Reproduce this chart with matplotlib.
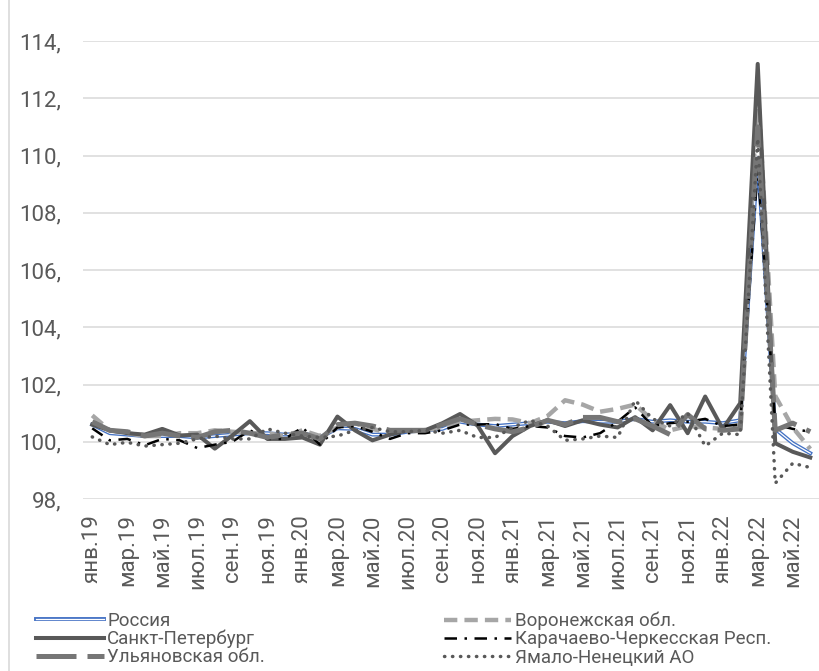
import matplotlib
matplotlib.use('Agg')
import matplotlib.pyplot as plt
import matplotlib.patheffects as pe
from matplotlib.lines import Line2D

plt.rcParams['font.family'] = ['Roboto', 'DejaVu Sans']

# периоды (янв.19 - июн.22)
periods = ['янв.19', 'фев.19', 'мар.19', 'апр.19', 'май.19', 'июн.19', 'июл.19', 'авг.19',
           'сен.19', 'окт.19', 'ноя.19', 'дек.19', 'янв.20', 'фев.20', 'мар.20', 'апр.20',
           'май.20', 'июн.20', 'июл.20', 'авг.20', 'сен.20', 'окт.20', 'ноя.20', 'дек.20',
           'янв.21', 'фев.21', 'мар.21', 'апр.21', 'май.21', 'июн.21', 'июл.21', 'авг.21',
           'сен.21', 'окт.21', 'ноя.21', 'дек.21', 'янв.22', 'фев.22', 'мар.22', 'апр.22',
           'май.22', 'июн.22']

russia = [100.6, 100.3, 100.25, 100.2, 100.2, 100.2, 100.15, 100.2, 100.25, 100.3,
          100.3, 100.25, 100.3, 100.15, 100.47, 100.45, 100.25, 100.25, 100.35, 100.4,
          100.45, 100.7, 100.6, 100.55, 100.6, 100.65, 100.7, 100.65, 100.72, 100.7,
          100.7, 100.8, 100.7, 100.75, 100.7, 100.7, 100.65, 100.75, 109.9, 100.45, 99.95, 99.6]

voronezh = [100.92, 100.4, 100.3, 100.2, 100.2, 100.3, 100.3, 100.4, 100.35, 100.3,
            100.3, 100.2, 100.4, 100.2, 100.5, 100.65, 100.45, 100.3, 100.35, 100.4,
            100.5, 100.7, 100.75, 100.8, 100.78, 100.65, 100.9, 101.45, 101.3, 101.05,
            101.15, 101.3, 100.75, 100.4, 100.55, 100.5, 100.45, 100.6, 112.4, 101.6, 100.5, 99.75]

spb = [100.6, 100.4, 100.3, 100.25, 100.45, 100.22, 100.25, 99.76, 100.22, 100.72,
       100.1, 100.1, 100.15, 99.9, 100.88, 100.4, 100.05, 100.25, 100.4, 100.4,
       100.65, 100.97, 100.57, 99.6, 100.2, 100.55, 100.75, 100.55, 100.75, 100.6,
       100.5, 100.86, 100.4, 101.28, 100.3, 101.58, 100.45, 101.35, 113.2, 99.95, 99.65, 99.45]

kchr = [100.47, 100.05, 100.1, 99.88, 100.1, 100.05, 99.78, 99.9, 100.0, 100.4,
        100.1, 100.1, 100.5, 99.9, 100.5, 100.55, 100.35, 100.1, 100.3, 100.3,
        100.4, 100.6, 100.6, 100.62, 100.45, 100.55, 100.5, 100.2, 100.15, 100.3,
        100.7, 101.2, 100.55, 100.65, 100.7, 100.8, 100.55, 100.6, 109.6, 100.6, 100.45, 100.35]

ulyanovsk = [100.7, 100.4, 100.35, 100.2, 100.3, 100.2, 100.15, 100.35, 100.4, 100.3,
             100.15, 100.25, 100.3, 100.1, 100.6, 100.65, 100.55, 100.4, 100.4, 100.4,
             100.6, 100.8, 100.6, 100.45, 100.35, 100.5, 100.75, 100.6, 100.85, 100.85,
             100.7, 100.8, 100.55, 100.25, 100.95, 100.45, 100.4, 100.45, 111.0, 100.4, 100.65, 100.35]

yamal = [100.17, 99.9, 99.98, 99.85, 99.9, 99.95, 100.1, 100.2, 100.1, 100.1,
         100.45, 100.3, 100.2, 100.15, 100.2, 100.4, 100.5, 100.35, 100.35, 100.4,
         100.3, 100.4, 100.15, 100.15, 100.5, 100.75, 100.55, 100.05, 100.1, 100.2,
         100.15, 101.45, 100.8, 100.55, 101.0, 99.85, 100.3, 100.25, 110.6, 98.55, 99.25, 99.1]

x = list(range(len(periods)))

fig = plt.figure(figsize=(8.2, 6.71), dpi=100)
ax = fig.add_axes([0.1018, 0.2563, 0.897, 0.6826])

# Россия - двойная линия (синий контур, белая середина)
l_rus, = ax.plot(x, russia, color='white', lw=0.9, label='Россия',
                 path_effects=[pe.Stroke(linewidth=2.8, foreground='#4472C4'), pe.Normal()])
l_vor, = ax.plot(x, voronezh, color='#A6A6A6', lw=3.2, linestyle=(0, (3, 1.6)),
                 label='Воронежская обл.')
l_spb, = ax.plot(x, spb, color='#595959', lw=2.9, label='Санкт-Петербург')
l_kch, = ax.plot(x, kchr, color='black', lw=1.8, linestyle=(0, (5, 3, 1, 3)),
                 label='Карачаево-Черкесская Респ.')
l_uly, = ax.plot(x, ulyanovsk, color='#767676', lw=3.6, linestyle=(0, (8, 2.2)),
                 label='Ульяновская обл.')
l_yam, = ax.plot(x, yamal, color='#595959', lw=2.5, linestyle=(0, (0.1, 2.2)),
                 dash_capstyle='round', label='Ямало-Ненецкий АО')

ax.set_xlim(-0.5, len(periods) - 0.5)
ax.set_ylim(98, 114)
yt = list(range(98, 115, 2))
ax.set_yticks(yt)
ax.set_yticklabels([f'{v},' for v in yt])
ax.set_xticks(x[::2])
ax.set_xticklabels(periods[::2], rotation=90)

ax.grid(axis='y', color='#D9D9D9', lw=1.1)
ax.set_axisbelow(True)
for s in ax.spines.values():
    s.set_visible(False)
ax.tick_params(axis='y', length=0, pad=16, labelsize=16, labelcolor='#595959')
ax.tick_params(axis='x', length=0, pad=11, labelsize=16, labelcolor='#595959')

# легенда в две колонки
leg_kw = dict(loc='upper left', frameon=False, fontsize=13.5, labelcolor='#595959',
              borderpad=0, borderaxespad=0, handlelength=3.6, handletextpad=0.2,
              labelspacing=0.0)
leg1 = fig.legend(handles=[l_rus, l_spb, l_uly], bbox_to_anchor=(36 / 820, 1 - 612 / 671), **leg_kw)
leg2 = fig.legend(handles=[l_vor, l_kch, l_yam], bbox_to_anchor=(444 / 820, 1 - 612 / 671), **leg_kw)

# рамка области диаграммы слева
fig.add_artist(Line2D([9 / 820, 9 / 820], [0, 1], color='#D9D9D9', lw=1.2))

fig.savefig('out.png', dpi=100)
